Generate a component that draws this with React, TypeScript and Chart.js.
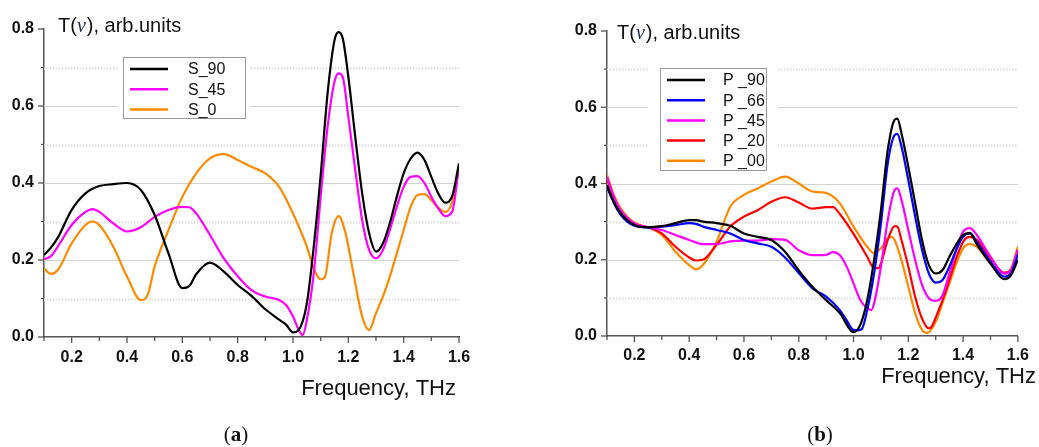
import React, { useEffect, useRef } from 'react';
import { Chart, registerables } from 'chart.js';

Chart.register(...registerables);

// ---------- Panel (a): S polarisation ----------
const fS90 = [0.1, 0.125, 0.15, 0.2, 0.25, 0.3, 0.35, 0.4, 0.45, 0.5, 0.55, 0.6, 0.625, 0.65, 0.7, 0.75, 0.8, 0.85, 0.9, 0.95, 0.975, 1.0, 1.02, 1.05, 1.075, 1.1, 1.125, 1.15, 1.165, 1.18, 1.2, 1.225, 1.25, 1.275, 1.3, 1.325, 1.35, 1.375, 1.4, 1.425, 1.45, 1.475, 1.5, 1.525, 1.55, 1.575, 1.6];
const tS90 = [0.213, 0.232, 0.258, 0.33, 0.373, 0.392, 0.397, 0.4, 0.382, 0.317, 0.217, 0.127, 0.132, 0.163, 0.193, 0.17, 0.135, 0.107, 0.072, 0.045, 0.032, 0.012, 0.018, 0.087, 0.235, 0.42, 0.633, 0.771, 0.792, 0.775, 0.676, 0.52, 0.373, 0.27, 0.222, 0.243, 0.296, 0.364, 0.425, 0.463, 0.479, 0.46, 0.416, 0.373, 0.349, 0.365, 0.451];

const fS45 = [0.1, 0.125, 0.15, 0.2, 0.25, 0.275, 0.3, 0.35, 0.4, 0.45, 0.5, 0.55, 0.6, 0.625, 0.65, 0.7, 0.75, 0.8, 0.85, 0.9, 0.95, 0.975, 1.0, 1.02, 1.035, 1.05, 1.075, 1.1, 1.125, 1.15, 1.165, 1.18, 1.2, 1.225, 1.25, 1.275, 1.3, 1.325, 1.35, 1.375, 1.4, 1.425, 1.45, 1.475, 1.5, 1.525, 1.55, 1.575, 1.6];
const tS45 = [0.202, 0.21, 0.235, 0.291, 0.325, 0.332, 0.325, 0.295, 0.274, 0.285, 0.312, 0.33, 0.338, 0.337, 0.321, 0.265, 0.204, 0.158, 0.122, 0.105, 0.096, 0.083, 0.053, 0.02, 0.005, 0.044, 0.165, 0.364, 0.546, 0.663, 0.685, 0.675, 0.572, 0.434, 0.304, 0.226, 0.204, 0.226, 0.278, 0.338, 0.39, 0.416, 0.418, 0.4, 0.364, 0.334, 0.314, 0.325, 0.443];

const fS0 = [0.1, 0.125, 0.15, 0.2, 0.25, 0.275, 0.3, 0.35, 0.4, 0.45, 0.475, 0.5, 0.55, 0.6, 0.65, 0.7, 0.75, 0.8, 0.85, 0.9, 0.95, 1.0, 1.05, 1.075, 1.1, 1.115, 1.14, 1.165, 1.19, 1.2, 1.225, 1.25, 1.275, 1.3, 1.325, 1.35, 1.4, 1.425, 1.45, 1.475, 1.5, 1.525, 1.55, 1.575, 1.6];
const tS0 = [0.178, 0.164, 0.174, 0.243, 0.291, 0.3, 0.291, 0.235, 0.157, 0.096, 0.11, 0.183, 0.278, 0.364, 0.425, 0.464, 0.475, 0.46, 0.442, 0.425, 0.39, 0.321, 0.235, 0.178, 0.15, 0.155, 0.27, 0.314, 0.27, 0.235, 0.14, 0.053, 0.018, 0.062, 0.105, 0.157, 0.278, 0.338, 0.369, 0.371, 0.355, 0.336, 0.325, 0.35, 0.443];

// ---------- Panel (b): P polarisation ----------
const fP90 = [0.1, 0.125, 0.15, 0.2, 0.25, 0.3, 0.35, 0.4, 0.425, 0.45, 0.5, 0.55, 0.6, 0.65, 0.7, 0.75, 0.8, 0.85, 0.9, 0.95, 1.0, 1.025, 1.05, 1.075, 1.1, 1.125, 1.15, 1.16, 1.175, 1.2, 1.225, 1.25, 1.275, 1.3, 1.325, 1.35, 1.375, 1.4, 1.425, 1.45, 1.5, 1.55, 1.575, 1.6];
const tP90 = [0.396, 0.352, 0.322, 0.291, 0.285, 0.288, 0.296, 0.304, 0.304, 0.3, 0.296, 0.289, 0.269, 0.26, 0.252, 0.221, 0.172, 0.129, 0.094, 0.06, 0.01, 0.03, 0.094, 0.199, 0.33, 0.488, 0.567, 0.57, 0.532, 0.444, 0.348, 0.252, 0.186, 0.164, 0.173, 0.208, 0.24, 0.265, 0.27, 0.241, 0.19, 0.149, 0.16, 0.2];

const fP66 = [0.1, 0.125, 0.15, 0.2, 0.25, 0.3, 0.35, 0.4, 0.425, 0.45, 0.5, 0.55, 0.6, 0.65, 0.7, 0.75, 0.8, 0.85, 0.9, 0.95, 0.975, 1.0, 1.015, 1.03, 1.05, 1.075, 1.1, 1.125, 1.15, 1.16, 1.175, 1.2, 1.225, 1.25, 1.275, 1.3, 1.325, 1.35, 1.375, 1.4, 1.425, 1.45, 1.5, 1.55, 1.575, 1.6];
const tP66 = [0.39, 0.349, 0.318, 0.289, 0.285, 0.287, 0.291, 0.296, 0.294, 0.287, 0.278, 0.269, 0.252, 0.243, 0.234, 0.206, 0.165, 0.125, 0.103, 0.068, 0.041, 0.016, 0.015, 0.018, 0.068, 0.164, 0.295, 0.453, 0.527, 0.53, 0.497, 0.409, 0.313, 0.226, 0.164, 0.14, 0.147, 0.182, 0.226, 0.26, 0.27, 0.247, 0.195, 0.156, 0.165, 0.213];

const fP45 = [0.1, 0.125, 0.15, 0.2, 0.25, 0.3, 0.35, 0.4, 0.45, 0.5, 0.55, 0.6, 0.65, 0.7, 0.75, 0.8, 0.85, 0.9, 0.925, 0.95, 0.975, 1.0, 1.025, 1.05, 1.065, 1.075, 1.1, 1.125, 1.15, 1.16, 1.175, 1.2, 1.225, 1.25, 1.275, 1.3, 1.325, 1.35, 1.375, 1.4, 1.425, 1.45, 1.5, 1.55, 1.575, 1.6];
const tP45 = [0.418, 0.366, 0.33, 0.295, 0.285, 0.278, 0.265, 0.252, 0.241, 0.241, 0.248, 0.25, 0.25, 0.254, 0.252, 0.225, 0.212, 0.213, 0.22, 0.212, 0.182, 0.138, 0.094, 0.073, 0.068, 0.085, 0.182, 0.304, 0.383, 0.387, 0.357, 0.278, 0.199, 0.134, 0.099, 0.092, 0.107, 0.164, 0.226, 0.274, 0.283, 0.265, 0.208, 0.164, 0.173, 0.226];

const fP20 = [0.1, 0.125, 0.15, 0.2, 0.25, 0.3, 0.35, 0.4, 0.425, 0.45, 0.5, 0.55, 0.6, 0.65, 0.7, 0.75, 0.8, 0.85, 0.9, 0.925, 0.95, 1.0, 1.05, 1.075, 1.09, 1.1, 1.125, 1.15, 1.16, 1.175, 1.2, 1.225, 1.25, 1.275, 1.285, 1.3, 1.325, 1.35, 1.375, 1.4, 1.425, 1.45, 1.5, 1.55, 1.575, 1.6];
const tP20 = [0.413, 0.362, 0.326, 0.295, 0.285, 0.269, 0.234, 0.206, 0.198, 0.2, 0.239, 0.287, 0.313, 0.33, 0.352, 0.364, 0.35, 0.334, 0.338, 0.338, 0.32, 0.268, 0.208, 0.178, 0.178, 0.19, 0.252, 0.288, 0.287, 0.252, 0.182, 0.103, 0.046, 0.02, 0.024, 0.048, 0.094, 0.147, 0.204, 0.247, 0.26, 0.252, 0.204, 0.166, 0.173, 0.226];

const fP00 = [0.1, 0.125, 0.15, 0.2, 0.25, 0.3, 0.35, 0.4, 0.425, 0.45, 0.5, 0.55, 0.6, 0.65, 0.7, 0.75, 0.8, 0.85, 0.9, 0.95, 1.0, 1.05, 1.075, 1.1, 1.125, 1.14, 1.15, 1.175, 1.2, 1.225, 1.25, 1.27, 1.3, 1.325, 1.35, 1.375, 1.4, 1.425, 1.45, 1.5, 1.55, 1.575, 1.6];
const tP00 = [0.422, 0.37, 0.335, 0.297, 0.285, 0.265, 0.221, 0.186, 0.175, 0.186, 0.247, 0.339, 0.37, 0.387, 0.405, 0.418, 0.4, 0.379, 0.375, 0.348, 0.287, 0.234, 0.217, 0.23, 0.256, 0.26, 0.252, 0.199, 0.129, 0.06, 0.016, 0.008, 0.037, 0.087, 0.138, 0.19, 0.23, 0.241, 0.234, 0.19, 0.164, 0.177, 0.234];

// axis ranges / ticks
const X_MIN = 0.1;
const X_MAX = 1.6;
const Y_MIN = 0;
const Y_MAX = 0.8;
const STEP = 0.1;

const SANS = '"Liberation Sans", Arial, Helvetica, sans-serif';
const SERIF = '"Liberation Serif", "Times New Roman", serif';

const zip = (f: number[], t: number[]) => f.map((x, i) => ({ x, y: t[i] }));

type Series = { label: string; color: string; f: number[]; t: number[] };

type Panel = {
  series: Series[];
  left: number;
  width: number;
  padTop: number;
  padRight: number;
  padBottom: number;
  yWidth: number;
  xHeight: number;
  xLabelPad: number;
  legend: { x: number; y: number; w: number; h: number; row0: number; rowStep: number; l0: number; l1: number; tx: number; gap: number };
  title: { x: number; y: number };
  xTitle: { right: number; y: number };
  tag: { cx: number; y: number; letter: string };
};

const panelA: Panel = {
  series: [
    { label: 'S_90', color: '#000000', f: fS90, t: tS90 },
    { label: 'S_45', color: '#ff00ff', f: fS45, t: tS45 },
    { label: 'S_0', color: '#ff8a00', f: fS0, t: tS0 },
  ],
  left: 0,
  width: 520,
  padTop: 29,
  padRight: 61,
  padBottom: 70,
  yWidth: 44,
  xHeight: 40,
  xLabelPad: 11,
  legend: { x: 123, y: 57, w: 122, h: 61, row0: 69, rowStep: 20.3, l0: 130, l1: 168, tx: 188, gap: 5 },
  title: { x: 58, y: 31.5 },
  xTitle: { right: 456, y: 395 },
  tag: { cx: 236, y: 441, letter: 'a' },
};

const panelB: Panel = {
  series: [
    { label: 'P _90', color: '#000000', f: fP90, t: tP90 },
    { label: 'P _66', color: '#0000ff', f: fP66, t: tP66 },
    { label: 'P _45', color: '#ff00ff', f: fP45, t: tP45 },
    { label: 'P _20', color: '#ff0000', f: fP20, t: tP20 },
    { label: 'P _00', color: '#ff8a00', f: fP00, t: tP00 },
  ],
  left: 530,
  width: 509,
  padTop: 31,
  padRight: 18,
  padBottom: 71,
  yWidth: 77,
  xHeight: 40,
  xLabelPad: 10,
  legend: { x: 130, y: 68, w: 106, h: 102, row0: 80, rowStep: 20.2, l0: 137, l1: 175, tx: 193, gap: 12 },
  title: { x: 87, y: 39 },
  xTitle: { right: 506, y: 383 },
  tag: { cx: 290, y: 441, letter: 'b' },
};

function makeOverlay(p: Panel) {
  return {
    id: 'overlay',
    beforeDatasetsDraw(chart: any) {
      const { ctx, chartArea: a, scales } = chart;
      const y = scales.y;
      ctx.save();
      for (let k = 1; k <= 7; k++) {
        const py = Math.round(y.getPixelForValue(k * STEP)) + 0.5;
        ctx.beginPath();
        if (k % 2 === 0) {
          ctx.setLineDash([]);
          ctx.strokeStyle = '#d2d2d2';
          ctx.lineWidth = 1;
        } else {
          ctx.setLineDash([1.5, 1.5]);
          ctx.strokeStyle = '#dcdcdc';
          ctx.lineWidth = 2;
        }
        ctx.moveTo(a.left, py);
        ctx.lineTo(a.right, py);
        ctx.stroke();
      }
      ctx.restore();
    },
    afterDraw(chart: any) {
      const { ctx, chartArea: a, scales } = chart;
      const x = scales.x;
      const y = scales.y;
      ctx.save();
      // tick marks
      ctx.strokeStyle = '#555';
      ctx.lineWidth = 1.3;
      ctx.setLineDash([]);
      const nx = Math.round((X_MAX - X_MIN) / STEP);
      for (let k = 0; k <= nx; k++) {
        const v = X_MIN + k * STEP;
        const major = Math.round(v * 10) % 2 === 0;
        const px = x.getPixelForValue(v);
        ctx.beginPath();
        ctx.moveTo(px, a.bottom);
        ctx.lineTo(px, a.bottom + (major ? 6 : 4));
        ctx.stroke();
      }
      const ny = Math.round((Y_MAX - Y_MIN) / STEP);
      for (let k = 0; k <= ny; k++) {
        const v = Y_MIN + k * STEP;
        const major = k % 2 === 0;
        const py = y.getPixelForValue(v);
        ctx.beginPath();
        ctx.moveTo(a.left - (major ? 6 : 3), py);
        ctx.lineTo(a.left, py);
        ctx.stroke();
      }

      // legend
      const L = p.legend;
      ctx.fillStyle = '#ffffff';
      ctx.fillRect(L.x - L.gap, L.y - 2, L.w + 2 * L.gap, L.h + 4);
      ctx.strokeStyle = '#9a9a9a';
      ctx.lineWidth = 1;
      ctx.strokeRect(L.x + 0.5, L.y + 0.5, L.w, L.h);
      ctx.font = `16px ${SANS}`;
      ctx.textBaseline = 'middle';
      ctx.textAlign = 'left';
      chart.data.datasets.forEach((ds: any, i: number) => {
        const ry = L.row0 + i * L.rowStep;
        ctx.strokeStyle = ds.borderColor;
        ctx.lineWidth = 2.5;
        ctx.beginPath();
        ctx.moveTo(L.l0, ry);
        ctx.lineTo(L.l1, ry);
        ctx.stroke();
        ctx.fillStyle = '#111';
        ctx.fillText(ds.label, L.tx, ry + 1);
      });

      // y title: T(ν), arb.units
      ctx.textBaseline = 'alphabetic';
      ctx.fillStyle = '#111';
      let tx = p.title.x;
      ctx.font = `20px ${SANS}`;
      ctx.fillText('T(', tx, p.title.y);
      tx += ctx.measureText('T(').width;
      ctx.font = `italic 20px ${SERIF}`;
      ctx.fillStyle = '#1b2a4a';
      ctx.fillText('ν', tx, p.title.y);
      tx += ctx.measureText('ν').width + 1;
      ctx.font = `20px ${SANS}`;
      ctx.fillStyle = '#111';
      ctx.fillText('), arb.units', tx, p.title.y);

      // x title
      ctx.font = `22px ${SANS}`;
      ctx.textAlign = 'right';
      ctx.fillText('Frequency, THz', p.xTitle.right, p.xTitle.y);

      // panel tag (a)/(b)
      ctx.textAlign = 'left';
      ctx.font = `21px ${SERIF}`;
      const wp = ctx.measureText('(').width;
      const wq = ctx.measureText(')').width;
      ctx.font = `bold 21px ${SERIF}`;
      const wl = ctx.measureText(p.tag.letter).width;
      let sx = p.tag.cx - (wp + wl + wq) / 2;
      ctx.font = `21px ${SERIF}`;
      ctx.fillText('(', sx, p.tag.y);
      sx += wp;
      ctx.font = `bold 21px ${SERIF}`;
      ctx.fillText(p.tag.letter, sx, p.tag.y);
      sx += wl;
      ctx.font = `21px ${SERIF}`;
      ctx.fillText(')', sx, p.tag.y);
      ctx.restore();
    },
  };
}

const tickLabel = (v: number | string) => {
  const k = Math.round(Number(v) * 10);
  return k % 2 === 0 ? (k / 10).toFixed(1) : '';
};

function PanelChart({ p }: { p: Panel }) {
  const ref = useRef<HTMLCanvasElement | null>(null);
  useEffect(() => {
    if (!ref.current) return;
    const chart = new Chart(ref.current, {
      type: 'line',
      data: {
        datasets: p.series.map((s) => ({
          label: s.label,
          data: zip(s.f, s.t),
          borderColor: s.color,
          backgroundColor: s.color,
          borderWidth: 2.2,
          pointRadius: 0,
          fill: false,
          cubicInterpolationMode: 'monotone' as const,
        })),
      },
      options: {
        responsive: false,
        animation: false,
        events: [],
        layout: { padding: { top: p.padTop, right: p.padRight, bottom: p.padBottom, left: 0 } },
        plugins: { legend: { display: false }, tooltip: { enabled: false }, title: { display: false } },
        scales: {
          x: {
            type: 'linear',
            min: X_MIN,
            max: X_MAX,
            grid: { display: false, drawTicks: false },
            border: { display: true, color: '#555', width: 1.5 },
            ticks: {
              stepSize: STEP,
              autoSkip: false,
              maxRotation: 0,
              padding: p.xLabelPad,
              color: '#111',
              font: { family: SANS, size: 16, weight: 'bold' },
              callback: tickLabel,
            },
            afterFit: (s: any) => {
              s.height = p.xHeight;
            },
          },
          y: {
            type: 'linear',
            min: Y_MIN,
            max: Y_MAX,
            grid: { display: false, drawTicks: false },
            border: { display: true, color: '#555', width: 1.5 },
            ticks: {
              stepSize: STEP,
              autoSkip: false,
              padding: 10,
              color: '#111',
              font: { family: SANS, size: 16, weight: 'bold' },
              callback: tickLabel,
            },
            afterFit: (s: any) => {
              s.width = p.yWidth;
            },
          },
        },
      },
      plugins: [makeOverlay(p)],
    } as any);
    return () => chart.destroy();
  }, [p]);
  return (
    <canvas
      ref={ref}
      width={p.width}
      height={447}
      style={{ position: 'absolute', left: p.left, top: 0, width: p.width, height: 447 }}
    />
  );
}

export default function App() {
  return (
    <div style={{ position: 'absolute', left: 0, top: 0, width: 1039, height: 447, background: '#fff', overflow: 'hidden' }}>
      <PanelChart p={panelA} />
      <PanelChart p={panelB} />
    </div>
  );
}
